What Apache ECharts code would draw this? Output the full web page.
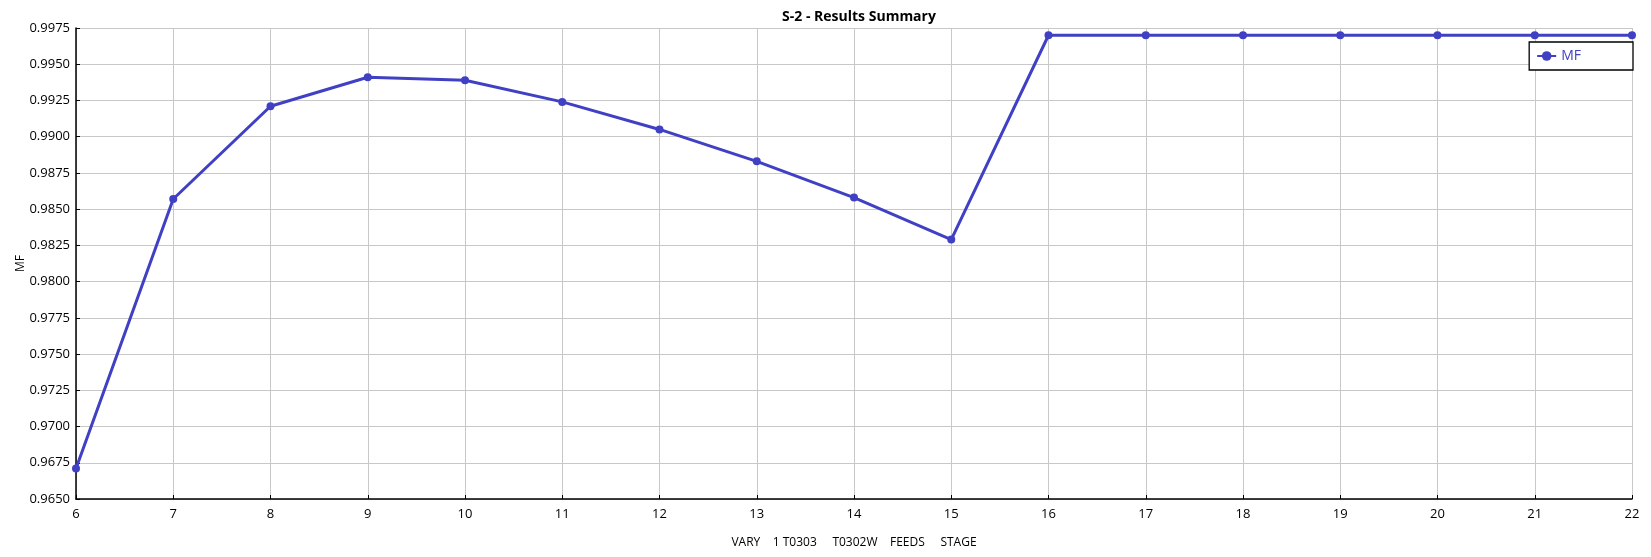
<!DOCTYPE html>
<html>
<head>
<meta charset="utf-8">
<script src="https://cdn.jsdelivr.net/npm/echarts@6/dist/echarts.min.js"></script>
<style>
  html, body { margin: 0; padding: 0; background: #fff; }
  #main { width: 1651px; height: 557px; }
</style>
</head>
<body>
<div id="main"></div>
<script>
// stage number vs MF
var stages = [6, 7, 8, 9, 10, 11, 12, 13, 14, 15, 16, 17, 18, 19, 20, 21, 22];
var mfValues = [0.9671, 0.9857, 0.9921, 0.9941, 0.9939, 0.9924, 0.9905, 0.9883, 0.9858, 0.9829,
                0.9970, 0.9970, 0.9970, 0.9970, 0.9970, 0.9970, 0.9970];
var yMin = 0.9650, yMax = 0.9975, yStep = 0.0025;

var lineColor = '#4040C4';
var font = '"Open Sans", "Noto Sans", sans-serif';

var myChart = echarts.init(document.getElementById('main'));
var option = {
    backgroundColor: '#fff',
    animation: false,
    title: {
        text: 'S-2 - Results Summary',
        left: 854,
        textAlign: 'center',
        top: 5,
        textStyle: { fontFamily: font, fontSize: 14, fontWeight: 'bold', color: '#000' }
    },
    legend: {
        data: ['MF'],
        right: 18,
        top: 42,
        orient: 'vertical',
        backgroundColor: '#fff',
        borderColor: '#000',
        borderWidth: 1.3,
        borderRadius: 0,
        padding: [7, 52, 7, 7],
        itemWidth: 19,
        itemHeight: 12,
        itemGap: 0,
        textStyle: { fontFamily: font, fontSize: 14, color: lineColor }
    },
    grid: {
        left: 76,
        right: 19,
        top: 28,
        bottom: 58,
        containLabel: false
    },
    xAxis: {
        type: 'value',
        min: 6,
        max: 22,
        interval: 1,
        name: 'VARY    1 T0303     T0302W    FEEDS     STAGE',
        nameLocation: 'middle',
        nameGap: 38,
        nameTextStyle: { fontFamily: font, fontSize: 12, color: '#000' },
        axisLine: { show: true, lineStyle: { color: '#000', width: 1.5 } },
        axisTick: { show: true, inside: true, length: 4, lineStyle: { color: '#000' } },
        axisLabel: { fontFamily: font, fontSize: 13, color: '#000', margin: 9 },
        splitLine: { show: true, lineStyle: { color: '#C8C8C8', width: 1 } }
    },
    yAxis: {
        type: 'value',
        min: yMin,
        max: yMax,
        interval: yStep,
        name: 'MF',
        nameLocation: 'middle',
        nameGap: 49,
        nameMoveOverlap: false,
        nameTextStyle: { fontFamily: font, fontSize: 12, color: '#000' },
        axisLine: { show: true, lineStyle: { color: '#000', width: 1.5 } },
        axisTick: { show: true, inside: true, length: 4, lineStyle: { color: '#000' } },
        axisLabel: {
            fontFamily: font, fontSize: 13, color: '#000', margin: 6,
            formatter: function (v) { return v.toFixed(4); }
        },
        splitLine: { show: true, lineStyle: { color: '#C8C8C8', width: 1 } }
    },
    series: [
        {
            name: 'MF',
            type: 'line',
            data: stages.map(function (s, i) { return [s, mfValues[i]]; }),
            symbol: 'circle',
            symbolSize: 8,
            showAllSymbol: true,
            clip: false,
            itemStyle: { color: lineColor },
            lineStyle: { color: lineColor, width: 3 }
        }
    ]
};
myChart.setOption(option);
</script>
</body>
</html>
